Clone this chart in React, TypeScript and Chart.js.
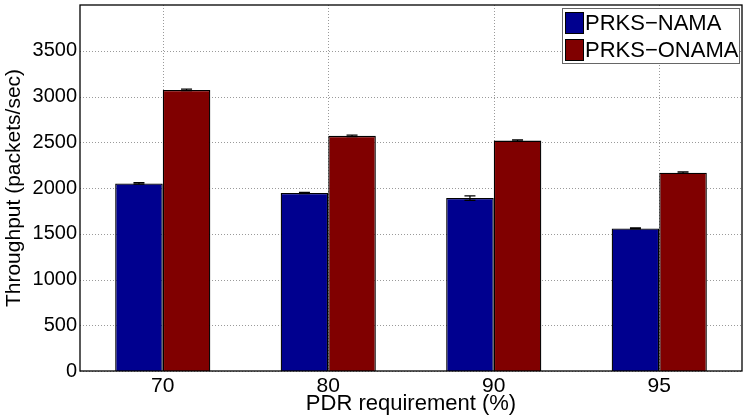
import React, { useEffect, useRef } from "react";
import { Chart, registerables } from "chart.js";
Chart.register(...registerables);

const categories = ["70", "80", "90", "95"];
const namaValues = [2050, 1945, 1890, 1558];
const onamaValues = [3072, 2570, 2518, 2168];
const namaErrors = [8, 8, 25, 6];
const onamaErrors = [8, 8, 8, 8];
const yTicks = [0, 500, 1000, 1500, 2000, 2500, 3000, 3500];
const seriesNames = ["PRKS\u2212NAMA", "PRKS\u2212ONAMA"];
const seriesColors = ["#00008F", "#800000"];

const FONT = "'Liberation Sans', Arial, Helvetica, sans-serif";

export default function App() {
  const ref = useRef<HTMLCanvasElement | null>(null);
  useEffect(() => {
    document.body.style.margin = "0";
    const canvas = ref.current!;
    const errors = [namaErrors, onamaErrors];

    const framePlugin = {
      id: "frame",
      beforeDatasetsDraw(chart: any) {
        const ctx = chart.ctx;
        const a = chart.chartArea;
        ctx.save();
        ctx.strokeStyle = "#9a9a9a";
        ctx.lineWidth = 1;
        ctx.setLineDash([1, 2]);
        const ys = chart.scales.y;
        yTicks.forEach((v) => {
          const y = Math.round(ys.getPixelForValue(v)) + 0.5;
          ctx.beginPath();
          ctx.moveTo(a.left, y);
          ctx.lineTo(a.right, y);
          ctx.stroke();
        });
        const xs = chart.scales.x;
        categories.forEach((_, i) => {
          const x = Math.round(xs.getPixelForValue(i)) + 0.5;
          ctx.beginPath();
          ctx.moveTo(x, a.top);
          ctx.lineTo(x, a.bottom);
          ctx.stroke();
        });
        ctx.restore();
      },
      afterDatasetsDraw(chart: any) {
        const ctx = chart.ctx;
        ctx.save();
        ctx.strokeStyle = "#000";
        ctx.lineWidth = 1.2;
        chart.data.datasets.forEach((ds: any, di: number) => {
          const meta = chart.getDatasetMeta(di);
          meta.data.forEach((bar: any, i: number) => {
            const v = ds.data[i];
            const e = errors[di][i];
            const y1 = chart.scales.y.getPixelForValue(v + e);
            const y2 = chart.scales.y.getPixelForValue(v - e);
            const x = bar.x;
            ctx.beginPath();
            ctx.moveTo(x, y1);
            ctx.lineTo(x, y2);
            ctx.moveTo(x - 5.5, y1);
            ctx.lineTo(x + 5.5, y1);
            ctx.moveTo(x - 5.5, y2);
            ctx.lineTo(x + 5.5, y2);
            ctx.stroke();
          });
        });
        ctx.restore();
      },
      afterDraw(chart: any) {
        const ctx = chart.ctx;
        const a = chart.chartArea;
        ctx.save();
        ctx.strokeStyle = "#000";
        ctx.lineWidth = 1.3;
        ctx.strokeRect(a.left, a.top, a.right - a.left, a.bottom - a.top);
        // legend
        const lx = 562, ly = 8, lw = 177, lh = 55;
        ctx.fillStyle = "#fff";
        ctx.fillRect(lx, ly, lw, lh);
        ctx.strokeStyle = "#666";
        ctx.lineWidth = 1;
        ctx.strokeRect(lx + 0.5, ly + 0.5, lw, lh);
        ctx.font = `22px ${FONT}`;
        ctx.textBaseline = "middle";
        seriesNames.forEach((n, i) => {
          const top = ly + 4 + i * 27;
          ctx.fillStyle = seriesColors[i];
          ctx.fillRect(lx + 3.5, top + 0.5, 18, 21);
          ctx.strokeStyle = "#000";
          ctx.strokeRect(lx + 3.5, top + 0.5, 18, 21);
          ctx.fillStyle = "#000";
          ctx.fillText(n, lx + 23, top + 12);
        });
        ctx.restore();
      },
    };

    const chart = new Chart(canvas, {
      type: "bar",
      data: {
        labels: categories,
        datasets: [
          {
            label: seriesNames[0],
            data: namaValues,
            backgroundColor: seriesColors[0],
            borderColor: "#000",
            borderWidth: 1.3,
            barPercentage: 1,
            categoryPercentage: 0.575,
          },
          {
            label: seriesNames[1],
            data: onamaValues,
            backgroundColor: seriesColors[1],
            borderColor: "#000",
            borderWidth: 1.3,
            barPercentage: 1,
            categoryPercentage: 0.575,
          },
        ],
      },
      options: {
        animation: false,
        responsive: false,
        maintainAspectRatio: false,
        layout: { padding: { top: 5, right: 5, left: 2, bottom: 0 } },
        plugins: { legend: { display: false }, tooltip: { enabled: false } },
        scales: {
          x: {
            grid: { display: false, drawTicks: false },
            border: { display: false },
            ticks: { color: "#000", font: { family: FONT, size: 21 }, padding: 3 },
            title: {
              display: true,
              text: "PDR requirement (%)",
              color: "#000",
              font: { family: FONT, size: 22 },
              padding: { top: -5, bottom: 0 },
            },
            afterFit(scale: any) {
              scale.height = 46;
              scale.paddingLeft = 0;
              scale.paddingRight = 0;
            },
          },
          y: {
            min: 0,
            max: 4000,
            afterBuildTicks(scale: any) {
              scale.ticks = yTicks.map((v) => ({ value: v }));
            },
            grid: { display: false, drawTicks: false },
            border: { display: false },
            ticks: {
              color: "#000",
              font: { family: FONT, size: 20 },
              padding: 3,
              callback: (v: any) => String(v),
            },
            title: {
              display: true,
              text: "Throughput (packets/sec)",
              color: "#000",
              font: { family: FONT, size: 21 },
              padding: { top: 0, bottom: 0 },
            },
            afterFit(scale: any) {
              scale.width = 78;
              scale.paddingTop = 0;
              scale.paddingBottom = 0;
            },
          },
        },
      },
      plugins: [framePlugin],
    });
    return () => chart.destroy();
  }, []);
  return (
    <div style={{ width: 747, height: 417 }}>
      <canvas ref={ref} width={747} height={417} style={{ width: 747, height: 417 }} />
    </div>
  );
}
